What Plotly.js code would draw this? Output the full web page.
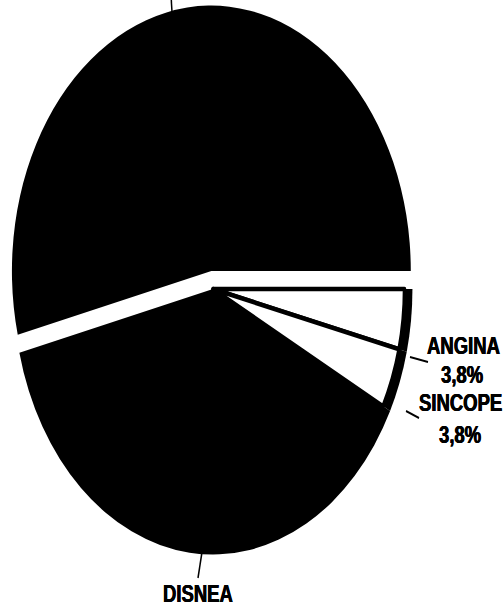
<!DOCTYPE html>
<html>
<head>
<meta charset="utf-8">
<script src="https://cdn.plot.ly/plotly-3.0.1.min.js"></script>
<style>
  html, body { margin: 0; padding: 0; background: #fff; width: 503px; height: 607px; overflow: hidden; }
  #wrap { position: relative; width: 503px; height: 607px; overflow: visible; }
  #chart { position: absolute; left: 0; top: 0; width: 503px; height: 456px; transform: scaleY(1.33114); transform-origin: 0 0; }
</style>
</head>
<body>
<div id="wrap"><div id="chart"></div></div>
<script>
// Categories in clockwise order starting at 3 o'clock.
// (The label of the largest slice is cut off at the top of the reference.)
const categories = ['ANGINA', 'SINCOPE', 'DISNEA', 'OTROS'];
const values = [3.8, 3.8, 38.5, 53.8];
const pulls = [0, 0, 0, 0.068];
const shownLabels = ['ANGINA', '3,8%', 'SINCOPE', '3,8%', 'DISNEA'];

const W = 503, H = 456, S = 607 / 456;
const px = x => x / W;
const py = yFinal => 1 - (yFinal / S) / H;

const outer = {
  type: 'pie', labels: categories, values: values, sort: false,
  direction: 'clockwise', rotation: 90, pull: pulls,
  marker: { colors: ['#000', '#000', '#000', '#000'], line: { width: 0 } },
  textinfo: 'none', hoverinfo: 'skip', showlegend: false,
  domain: { x: [0, 426 / W], y: [0.0524, 0.9954] }
};
const inner = {
  type: 'pie', labels: categories, values: values, sort: false,
  direction: 'clockwise', rotation: 90,
  marker: { colors: ['#fff', '#fff', 'rgba(0,0,0,0)', 'rgba(0,0,0,0)'],
            line: { color: '#000', width: [3.5, 3.5, 0, 0] } },
  textinfo: 'none', hoverinfo: 'skip', showlegend: false,
  domain: { x: [21.5 / W, 404.5 / W], y: [0.0941, 0.9537] }
};

const font = { family: 'Liberation Sans, Arial, sans-serif', size: 18.5, color: '#000', weight: 'bold',
               shadow: '0.4px 0 0 #000, -0.4px 0 0 #000' };
const labelPos = [[463, 345], [462, 375], [460, 402.5], [460, 435], [198, 592.5]];
const annotations = shownLabels.map((t, i) => ({
  text: '<b>' + t + '</b>', xref: 'paper', yref: 'paper',
  x: px(labelPos[i][0]), y: py(labelPos[i][1]),
  xanchor: 'center', yanchor: 'middle', showarrow: false, font: font
}));

const leaders = [[410, 357, 428, 362], [406, 411, 419, 418], [202, 552, 198, 578], [172, 12, 171, -5]];
const shapes = leaders.map(l => ({
  type: 'line', xref: 'paper', yref: 'paper',
  x0: px(l[0]), y0: py(l[1]), x1: px(l[2]), y1: py(l[3]),
  line: { color: '#000', width: 1.5 }
}));

Plotly.newPlot('chart', [outer, inner], {
  width: W, height: H, margin: { l: 0, r: 0, t: 0, b: 0 },
  paper_bgcolor: 'rgba(0,0,0,0)', showlegend: false,
  annotations: annotations, shapes: shapes
}, { staticPlot: true, displayModeBar: false });
</script>
</body>
</html>
